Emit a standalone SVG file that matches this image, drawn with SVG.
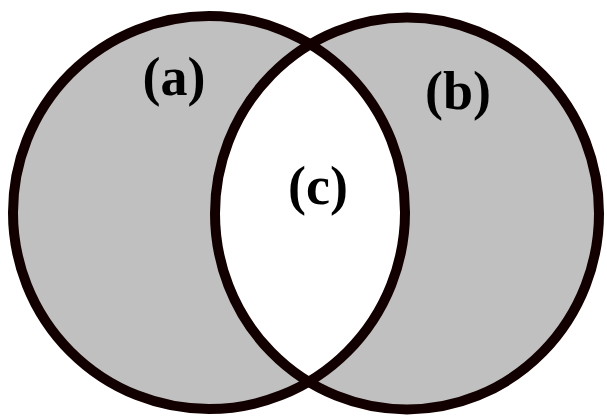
<svg xmlns="http://www.w3.org/2000/svg" width="607" height="416" viewBox="0 0 607 416">
<style>
.fill{fill:#c0c0c0;stroke:none}
.edge{fill:none;stroke:#120000;stroke-width:10}
.lbl{font-family:"Liberation Serif","Times New Roman",serif;font-weight:bold;font-size:54px;fill:#000;text-anchor:middle}
</style>
<defs>
<clipPath id="clipA"><ellipse cx="209" cy="212.5" rx="196" ry="196.5"/></clipPath>
</defs>
<rect width="607" height="416" fill="#fff"/>
<g id="setA">
<ellipse class="fill" cx="209" cy="212.5" rx="196" ry="196.5"/>
</g>
<g id="setB">
<ellipse class="fill" cx="407" cy="213.5" rx="192" ry="196"/>
</g>
<g id="intersection">
<ellipse cx="407" cy="213.5" rx="192" ry="196" fill="#fff" clip-path="url(#clipA)"/>
</g>
<g id="outlines">
<ellipse class="edge" cx="209" cy="212.5" rx="196" ry="196.5"/>
<ellipse class="edge" cx="407" cy="213.5" rx="192" ry="196"/>
</g>
<g id="labels">
<text class="lbl" x="174" y="95">(a)</text>
<text class="lbl" x="458" y="109">(b)</text>
<text class="lbl" x="318" y="204">(c)</text>
</g>
</svg>
